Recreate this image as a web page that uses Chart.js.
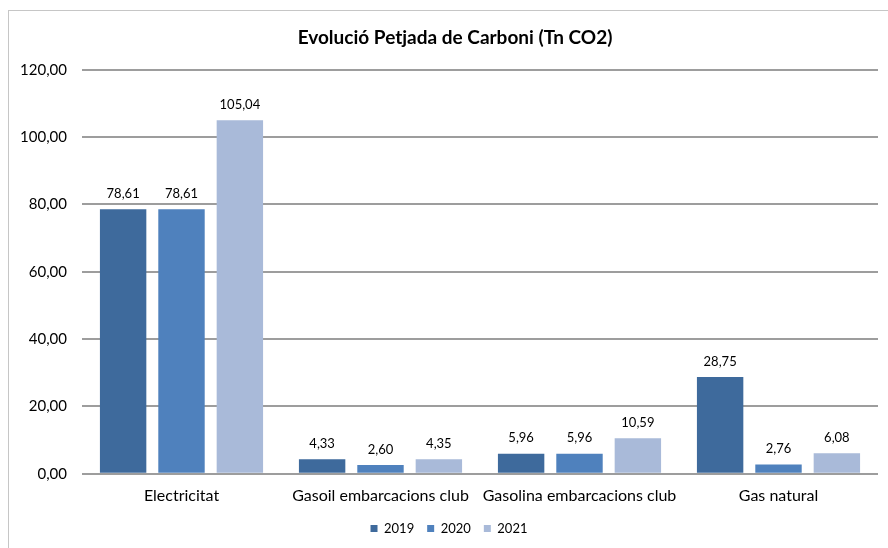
<!DOCTYPE html>
<html>
<head>
<meta charset="utf-8">
<script src="https://cdn.jsdelivr.net/npm/chart.js@4"></script>
<style>
    html, body { margin: 0; padding: 0; background: #ffffff; overflow: hidden; }
    #frame {
        position: absolute; left: 8px; top: 10px;
        width: 900px; height: 560px;
        border-left: 1px solid #c6c6c6; border-top: 1px solid #c6c6c6;
    }
    #chart { display: block; }
</style>
</head>
<body>
<div id="frame"><canvas id="chart" width="894" height="538"></canvas></div>
<script>
const categories = [ 'Electricitat', 'Gasoil embarcacions club', 'Gasolina embarcacions club', 'Gas natural' ];
const years = [ '2019', '2020', '2021' ];
const values2019 = [ 78.61, 4.33, 5.96, 28.75 ];
const values2020 = [ 78.61, 2.60, 5.96, 2.76 ];
const values2021 = [ 105.04, 4.35, 10.59, 6.08 ];

const Colors = {
    y2019: '#3E6A9C',
    y2020: '#4F81BD',
    y2021: '#A9BAD9',
    grid: '#9d9d9d',
    text: '#000000'
};

const fmt = v => v.toFixed( 2 ).replace( '.', ',' );

const valueLabels = {
    id: 'valueLabels',
    afterDatasetsDraw( chart ) {
        const ctx = chart.ctx;
        ctx.save();
        ctx.font = '13px Lato';
        ctx.fillStyle = Colors.text;
        ctx.textAlign = 'center';
        ctx.textBaseline = 'bottom';
        chart.data.datasets.forEach( ( ds, i ) => {
            chart.getDatasetMeta( i ).data.forEach( ( bar, j ) => {
                ctx.fillText( fmt( ds.data[ j ] ), bar.x, bar.y - 9 );
            } );
        } );
        ctx.restore();
    }
};

// centre the title on the whole frame, not on the padded box
const centerTitle = {
    id: 'centerTitle',
    afterLayout( chart ) {
        if ( chart.titleBlock ) {
            chart.titleBlock.left = 0;
            chart.titleBlock.right = 892;
        }
    }
};

new Chart( document.getElementById( 'chart' ).getContext( '2d' ), {
    type: 'bar',
    data: {
        labels: categories,
        datasets: [
            { label: years[ 0 ], data: values2019, backgroundColor: Colors.y2019 },
            { label: years[ 1 ], data: values2020, backgroundColor: Colors.y2020 },
            { label: years[ 2 ], data: values2021, backgroundColor: Colors.y2021 }
        ]
    },
    options: {
        responsive: false,
        animation: false,
        layout: { padding: { left: 11, right: 25, top: 0, bottom: 4 } },
        datasets: { bar: { categoryPercentage: 0.88, barPercentage: 0.795 } },
        scales: {
            x: {
                grid: { display: false },
                border: { display: false },
                ticks: {
                    color: Colors.text,
                    font: { family: 'Lato', size: 16 },
                    padding: 4,
                    maxRotation: 0,
                    minRotation: 0,
                    autoSkip: false
                }
            },
            y: {
                min: 0,
                max: 120,
                afterFit: scale => { scale.width = 62; },
                ticks: {
                    stepSize: 20,
                    color: Colors.text,
                    font: { family: 'Lato', size: 15 },
                    padding: 15,
                    callback: v => fmt( v )
                },
                grid: { color: Colors.grid, lineWidth: 2, drawTicks: false },
                border: { display: false }
            }
        },
        plugins: {
            title: {
                display: true,
                text: 'Evolució Petjada de Carboni (Tn CO2)',
                color: Colors.text,
                font: { family: 'Lato', size: 19, weight: 'bold' },
                padding: { top: 15, bottom: 21 }
            },
            legend: {
                position: 'bottom',
                labels: {
                    color: Colors.text,
                    font: { family: 'Lato', size: 13 },
                    boxWidth: 7,
                    boxHeight: 7,
                    padding: 13
                }
            },
            tooltip: { enabled: false }
        }
    },
    plugins: [ valueLabels, centerTitle ]
} );
</script>
</body>
</html>
